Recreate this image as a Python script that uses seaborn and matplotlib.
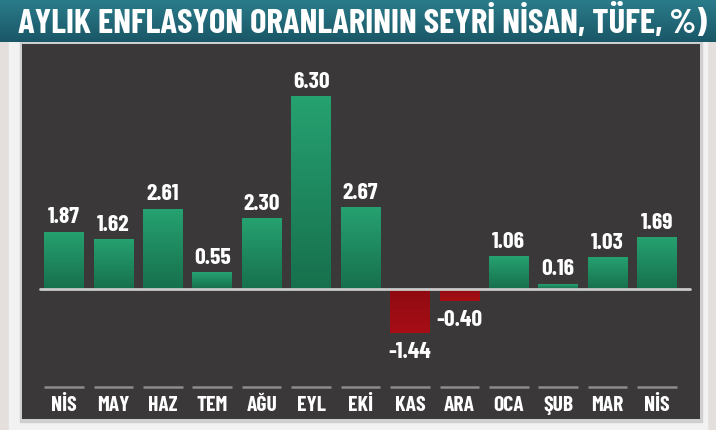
import numpy as np
import pandas as pd
import matplotlib
matplotlib.use("Agg")
import matplotlib.pyplot as plt
from matplotlib.colors import LinearSegmentedColormap
from matplotlib.patches import Rectangle
import seaborn as sns

months = ["NİS", "MAY", "HAZ", "TEM", "AĞU", "EYL", "EKİ", "KAS", "ARA", "OCA", "ŞUB", "MAR", "NİS"]
rates = [1.87, 1.62, 2.61, 0.55, 2.30, 6.30, 2.67, -1.44, -0.40, 1.06, 0.16, 1.03, 1.69]
title = "AYLIK ENFLASYON ORANLARININ SEYRİ NİSAN, TÜFE, %)"

sns.set_theme(style="white")
plt.rcParams['font.family'] = ['Barlow Condensed', 'Roboto Condensed', 'DejaVu Sans']

df = pd.DataFrame({"pos": range(len(months)), "rate": rates})
df["sign"] = np.where(df["rate"] >= 0, "pos", "neg")

fig = plt.figure(figsize=(7.16, 4.31), dpi=100)
fig.patch.set_facecolor("#e4dfdc")

# decoration layer in pixel coords
bg = fig.add_axes([0, 0, 1, 1])
bg.axis("off")
bg.add_patch(Rectangle((9, 40), 698, 391, color="#f2f2f2"))
bg.add_patch(Rectangle((20, 43), 682, 380, color="#cfcfcf"))
teal = LinearSegmentedColormap.from_list("teal", ["#2b7c8b", "#1a5767"])
bg.imshow(np.linspace(0, 1, 50).reshape(-1, 1), cmap=teal, aspect="auto",
          extent=(0, 716, 43, 0), zorder=2)
bg.text(362, 21, title, color="white", fontsize=25, fontweight="bold",
        ha="center", va="center", zorder=3)
bg.set_xlim(0, 716)
bg.set_ylim(431, 0)

ax = fig.add_axes([22 / 716, 1 - 420 / 431, 678 / 716, 375 / 431])
ax.set_facecolor("#3a3838")
sns.barplot(data=df, x="pos", y="rate", hue="sign",
            palette={"pos": "#1f8f60", "neg": "#9c0b12"},
            width=0.8, legend=False, ax=ax, saturation=1, linewidth=0)

green = LinearSegmentedColormap.from_list("g", ["#26a170", "#17704d"])
red = LinearSegmentedColormap.from_list("r", ["#8e0a10", "#a80e16"])
grad = np.linspace(0, 1, 100).reshape(-1, 1)
for p in list(ax.patches):
    x0, y0 = p.get_x(), p.get_y()
    w, h = p.get_width(), p.get_height()
    if h == 0:
        continue
    p.set_edgecolor("none")
    top, bot = max(y0, y0 + h), min(y0, y0 + h)
    cm = green if top > 0 else red
    im = ax.imshow(grad, cmap=cm, aspect="auto", extent=(x0, x0 + w, bot, top), zorder=3)
    im.set_clip_path(p)

ax.set_xlim(-0.85, 12.87)
ax.set_ylim(-4.25, 8.0)
ax.axhline(0, xmin=0.027, xmax=0.985, color="#c9c9c9", lw=2, zorder=4)

for i, v in enumerate(rates):
    if v >= 0:
        ax.text(i, v + 0.18, f"{v:.2f}", color="white", fontsize=17, fontweight="bold",
                ha="center", va="bottom", zorder=5)
    else:
        ax.text(i, v - 0.25, f"{v:.2f}", color="white", fontsize=17, fontweight="bold",
                ha="center", va="top", zorder=5)
    ax.hlines(-3.2, i - 0.4, i + 0.4, color="#8c8c8c", lw=1.8)
    ax.text(i, -3.78, months[i], color="white", fontsize=15.5, fontweight="bold",
            ha="center", va="center")

ax.set_xlabel("")
ax.set_ylabel("")
ax.set_xticks([])
ax.set_yticks([])
for s in ax.spines.values():
    s.set_visible(False)

fig.savefig("out.png", dpi=100, facecolor=fig.get_facecolor())
